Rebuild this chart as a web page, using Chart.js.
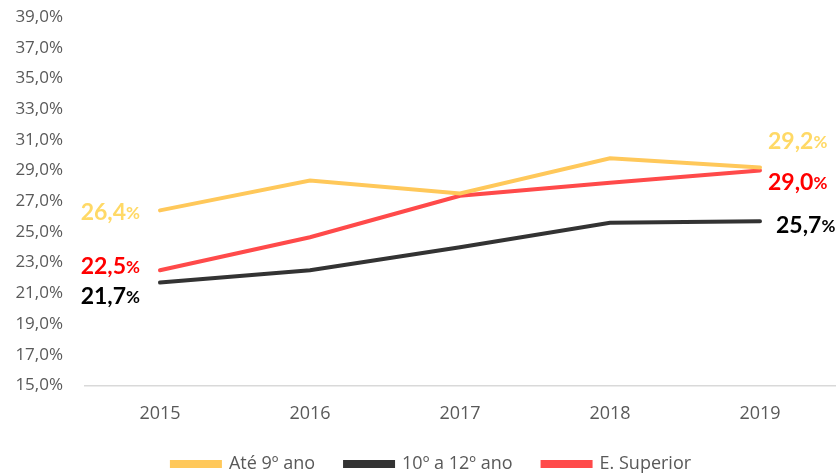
<!DOCTYPE html>
<html>
<head>
<meta charset="utf-8">
<script src="https://cdn.jsdelivr.net/npm/chart.js@4/dist/chart.umd.min.js"></script>
<style>
  html, body { margin: 0; padding: 0; background: #ffffff; }
  #wrap { width: 837px; height: 475px; position: relative; }
</style>
</head>
<body>
<div id="wrap"><canvas id="c"></canvas></div>
<script>
const categories = ['2015', '2016', '2017', '2018', '2019'];
const seriesNames = ['Até 9º ano', '10º a 12º ano', 'E. Superior'];
const ate9 = [26.4, 28.35, 27.5, 29.8, 29.2];
const de10a12 = [21.7, 22.5, 24.0, 25.6, 25.7];
const superior = [22.5, 24.65, 27.35, 28.2, 29.0];
const yTicks = [15, 17, 19, 21, 23, 25, 27, 29, 31, 33, 35, 37, 39];

const lineColors = ['#FFC85A', '#333333', '#FF4A4A'];
const labelColors = ['#FFD966', '#000000', '#FF0000'];

const fmt = v => v.toFixed(1).replace('.', ',');

const endLabels = {
  id: 'endLabels',
  afterDatasetsDraw(chart) {
    const ctx = chart.ctx;
    const offs = [[2, -26], [14, 4], [-4, 12]];
    const bigFont = 'bold 23px Lato, "Open Sans", sans-serif';
    const smallFont = 'bold 17px Lato, "Open Sans", sans-serif';
    chart.data.datasets.forEach((ds, i) => {
      const meta = chart.getDatasetMeta(i);
      const first = meta.data[0], last = meta.data[meta.data.length - 1];
      const draw = (v, x, y, align) => {
        const num = fmt(v);
        ctx.save();
        ctx.fillStyle = labelColors[i];
        ctx.textBaseline = 'middle';
        ctx.font = bigFont;
        const wNum = ctx.measureText(num).width;
        ctx.font = smallFont;
        const wPct = ctx.measureText('%').width;
        const sx = align === 'right' ? x - wNum - wPct : x;
        ctx.textAlign = 'left';
        ctx.font = bigFont;
        ctx.fillText(num, sx, y);
        ctx.font = smallFont;
        ctx.fillText('%', sx + wNum, y + 1);
        ctx.restore();
      };
      draw(ds.data[0], first.x - 20, first.y + offs[i][0], 'right');
      draw(ds.data[ds.data.length - 1], last.x + (i === 1 ? 16 : 8), last.y + offs[i][1], 'left');
    });
  }
};

// widen the horizontal gap between legend items without making the legend taller
const LEGEND_PAD = 14, LEGEND_GAP = 30;
const legendSpacing = {
  id: 'legendSpacing',
  beforeDraw(chart) {
    const lg = chart.legend;
    if (!lg || !lg.lineWidths) return;
    const extra = LEGEND_GAP - LEGEND_PAD;
    lg.options.labels.padding = LEGEND_GAP;
    lg.top -= extra + 2;
    lg.left += 14;
    lg.right += 14;
    lg.lineWidths = lg.lineWidths.map(w => w + extra * chart.data.datasets.length);
  },
  afterDraw(chart) {
    const lg = chart.legend;
    if (!lg) return;
    lg.options.labels.padding = LEGEND_PAD;
  }
};

const xFont = { family: '"Open Sans", sans-serif', size: 18 };
const yFont = { family: '"Open Sans", sans-serif', size: 17 };
const legendFont = { family: '"Open Sans", sans-serif', size: 18 };

new Chart(document.getElementById('c'), {
  type: 'line',
  data: {
    labels: categories,
    datasets: [
      { label: seriesNames[0], data: ate9, borderColor: lineColors[0], backgroundColor: lineColors[0] },
      { label: seriesNames[1], data: de10a12, borderColor: lineColors[1], backgroundColor: lineColors[1] },
      { label: seriesNames[2], data: superior, borderColor: lineColors[2], backgroundColor: lineColors[2] }
    ]
  },
  options: {
    responsive: true,
    maintainAspectRatio: false,
    animation: false,
    layout: { padding: { top: 0, right: 2, left: 0, bottom: -10 } },
    elements: {
      line: { borderWidth: 4, tension: 0, borderCapStyle: 'round' },
      point: { radius: 0, hoverRadius: 0 }
    },
    scales: {
      x: {
        offset: true,
        grid: { display: false, drawTicks: false },
        border: { display: true, color: '#D9D9D9', width: 1.5 },
        ticks: { color: '#595959', font: xFont, padding: 18 }
      },
      y: {
        min: 15, max: 39,
        afterFit(scale) { scale.width = 85; scale.paddingTop = 17; scale.paddingBottom = 0; },
        afterBuildTicks(scale) { scale.ticks = yTicks.map(v => ({ value: v })); },
        grid: { display: false, drawTicks: false },
        border: { display: false },
        ticks: {
          color: '#595959', font: yFont, padding: 22,
          callback: v => fmt(v) + '%'
        }
      }
    },
    plugins: {
      legend: {
        position: 'bottom',
        labels: {
          color: '#595959',
          font: legendFont,
          boxWidth: 48,
          boxHeight: 4,
          padding: LEGEND_PAD
        }
      },
      tooltip: { enabled: false }
    }
  },
  plugins: [endLabels, legendSpacing]
});
</script>
</body>
</html>
